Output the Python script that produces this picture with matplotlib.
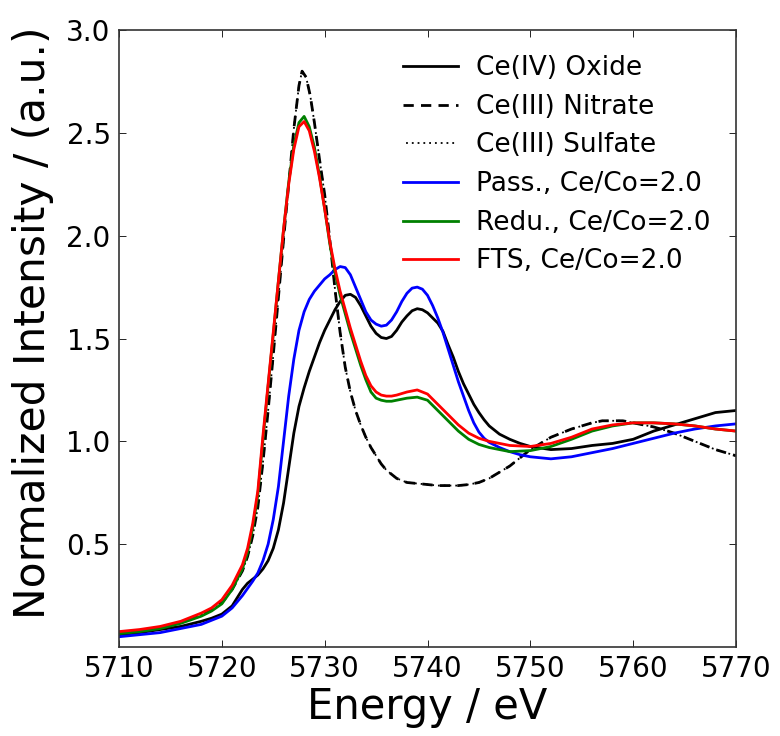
import matplotlib
matplotlib.use("Agg")
import matplotlib.pyplot as plt

plt.rcParams['font.family'] = ['DejaVu Sans']

# Ce(IV) Oxide
e_ox = [5710, 5712, 5714, 5716, 5718, 5719, 5720, 5721, 5721.5, 5722, 5722.5, 5723, 5723.5, 5724, 5724.5,
        5725, 5725.5, 5726, 5726.5, 5727, 5727.5, 5728, 5728.5, 5729, 5729.5, 5730, 5730.5, 5731, 5731.5,
        5732, 5732.5, 5733, 5733.5, 5734, 5734.5, 5735, 5735.5, 5736, 5736.5, 5737, 5737.5, 5738, 5738.5,
        5739, 5739.5, 5740, 5740.5, 5741, 5741.5, 5742, 5742.5, 5743, 5743.5, 5744, 5744.5, 5745, 5745.5,
        5746, 5747, 5748, 5749, 5750, 5752, 5754, 5756, 5758, 5760, 5762, 5764, 5766, 5768, 5770]
i_ox = [0.06, 0.07, 0.085, 0.10, 0.125, 0.14, 0.16, 0.20, 0.24, 0.28, 0.31, 0.33, 0.35, 0.38, 0.42,
        0.48, 0.57, 0.70, 0.87, 1.04, 1.17, 1.26, 1.34, 1.41, 1.48, 1.54, 1.59, 1.64, 1.68,
        1.71, 1.715, 1.70, 1.66, 1.61, 1.56, 1.525, 1.505, 1.50, 1.51, 1.54, 1.58, 1.61, 1.635,
        1.645, 1.64, 1.625, 1.60, 1.575, 1.535, 1.47, 1.41, 1.34, 1.28, 1.23, 1.18, 1.14, 1.105,
        1.075, 1.035, 1.01, 0.99, 0.975, 0.96, 0.965, 0.98, 0.99, 1.01, 1.05, 1.08, 1.11, 1.14, 1.15]

# Ce(III) Nitrate / Sulfate (nearly identical)
e_ce3 = [5710, 5712, 5714, 5716, 5718, 5719, 5720, 5721, 5722, 5722.5, 5723, 5723.5, 5724, 5724.5,
         5725, 5725.5, 5726, 5726.5, 5727, 5727.5, 5727.8, 5728.2, 5728.6, 5729, 5729.5, 5730, 5730.5,
         5731, 5731.5, 5732, 5732.5, 5733, 5733.5, 5734, 5734.5, 5735, 5735.5, 5736, 5737, 5738, 5739,
         5740, 5741, 5742, 5743, 5744, 5745, 5746, 5747, 5748, 5749, 5750, 5751, 5752, 5754, 5756, 5757,
         5758, 5759, 5760, 5762, 5764, 5766, 5768, 5770]
i_nitrate = [0.07, 0.08, 0.095, 0.12, 0.155, 0.18, 0.215, 0.28, 0.37, 0.44, 0.54, 0.68, 0.90, 1.15,
             1.42, 1.70, 1.98, 2.25, 2.52, 2.73, 2.80, 2.77, 2.68, 2.55, 2.37, 2.20, 1.98,
             1.74, 1.53, 1.36, 1.24, 1.15, 1.08, 1.02, 0.97, 0.93, 0.89, 0.86, 0.82, 0.80, 0.795,
             0.79, 0.785, 0.785, 0.785, 0.79, 0.80, 0.82, 0.85, 0.88, 0.92, 0.96, 0.99, 1.02, 1.06, 1.09, 1.10,
             1.10, 1.10, 1.09, 1.07, 1.04, 1.00, 0.96, 0.93]
i_sulfate = [0.07, 0.08, 0.095, 0.12, 0.155, 0.18, 0.215, 0.28, 0.37, 0.44, 0.54, 0.68, 0.90, 1.15,
             1.42, 1.70, 1.98, 2.25, 2.52, 2.73, 2.80, 2.77, 2.68, 2.55, 2.37, 2.20, 1.98,
             1.74, 1.53, 1.36, 1.24, 1.15, 1.08, 1.02, 0.97, 0.93, 0.89, 0.86, 0.82, 0.80, 0.795,
             0.79, 0.785, 0.785, 0.785, 0.79, 0.80, 0.82, 0.85, 0.88, 0.92, 0.96, 0.99, 1.02, 1.06, 1.09, 1.10,
             1.10, 1.10, 1.09, 1.07, 1.04, 1.00, 0.96, 0.93]

# Passivated, Ce/Co=2.0
e_pass = [5710, 5712, 5714, 5716, 5718, 5719, 5720, 5721, 5722, 5723, 5723.5, 5724, 5724.5, 5725, 5725.5,
          5726, 5726.5, 5727, 5727.5, 5728, 5728.5, 5729, 5729.5, 5730, 5730.5, 5731, 5731.5, 5732,
          5732.5, 5733, 5733.5, 5734, 5734.5, 5735, 5735.5, 5736, 5736.5, 5737, 5737.5, 5738, 5738.5,
          5739, 5739.5, 5740, 5740.5, 5741, 5741.5, 5742, 5742.5, 5743, 5743.5, 5744, 5744.5, 5745,
          5745.5, 5746, 5747, 5748, 5749, 5750, 5752, 5754, 5756, 5758, 5760, 5762, 5764, 5766, 5768, 5770]
i_pass = [0.05, 0.06, 0.07, 0.09, 0.11, 0.13, 0.15, 0.19, 0.25, 0.32, 0.36, 0.42, 0.50, 0.62, 0.78,
          1.00, 1.22, 1.40, 1.54, 1.63, 1.69, 1.73, 1.76, 1.79, 1.81, 1.835, 1.85, 1.845,
          1.81, 1.75, 1.69, 1.63, 1.59, 1.57, 1.56, 1.565, 1.59, 1.63, 1.68, 1.72, 1.745,
          1.75, 1.74, 1.71, 1.66, 1.60, 1.53, 1.45, 1.37, 1.29, 1.22, 1.15, 1.09, 1.045,
          1.015, 0.995, 0.97, 0.95, 0.935, 0.925, 0.915, 0.925, 0.945, 0.965, 0.99, 1.015, 1.04, 1.06, 1.075, 1.085]

# Reduced and FTS, Ce/Co=2.0
e_cat = [5710, 5712, 5714, 5716, 5718, 5719, 5720, 5721, 5722, 5722.5, 5723, 5723.5, 5724, 5724.5,
         5725, 5725.5, 5726, 5726.5, 5727, 5727.5, 5728, 5728.5, 5729, 5729.5, 5730, 5730.5, 5731,
         5731.5, 5732, 5732.5, 5733, 5733.5, 5734, 5734.5, 5735, 5735.5, 5736, 5736.5, 5737, 5738,
         5739, 5740, 5741, 5742, 5743, 5744, 5745, 5746, 5748, 5750, 5752, 5754, 5756, 5758, 5760,
         5762, 5764, 5766, 5768, 5770]
i_redu = [0.065, 0.075, 0.09, 0.115, 0.15, 0.175, 0.21, 0.28, 0.38, 0.46, 0.58, 0.74, 1.01, 1.27,
          1.52, 1.78, 2.03, 2.26, 2.44, 2.55, 2.58, 2.53, 2.43, 2.29, 2.13, 1.96, 1.82,
          1.71, 1.62, 1.53, 1.45, 1.37, 1.30, 1.24, 1.21, 1.20, 1.195, 1.195, 1.20, 1.21,
          1.215, 1.20, 1.15, 1.10, 1.05, 1.01, 0.985, 0.97, 0.95, 0.955, 0.975, 1.01, 1.05, 1.075, 1.09,
          1.09, 1.085, 1.075, 1.06, 1.05]
i_fts = [0.075, 0.085, 0.10, 0.125, 0.165, 0.19, 0.23, 0.30, 0.40, 0.48, 0.60, 0.76, 1.03, 1.28,
         1.53, 1.78, 2.03, 2.25, 2.42, 2.53, 2.555, 2.51, 2.41, 2.28, 2.13, 1.97, 1.84,
         1.73, 1.64, 1.55, 1.47, 1.39, 1.32, 1.27, 1.24, 1.225, 1.22, 1.22, 1.225, 1.24,
         1.25, 1.23, 1.18, 1.13, 1.08, 1.04, 1.015, 1.00, 0.98, 0.975, 0.99, 1.02, 1.06, 1.08, 1.09,
         1.09, 1.085, 1.075, 1.06, 1.05]

labels = ["Ce(IV) Oxide", "Ce(III) Nitrate", "Ce(III) Sulfate",
          "Pass., Ce/Co=2.0", "Redu., Ce/Co=2.0", "FTS, Ce/Co=2.0"]
x_ticks = [5710, 5720, 5730, 5740, 5750, 5760, 5770]
y_ticks = [0.5, 1.0, 1.5, 2.0, 2.5, 3.0]

fig = plt.figure(figsize=(7.8, 7.36), dpi=100)
ax = fig.add_axes([0.1526, 0.1209, 0.7910, 0.8383])

lw = 2.0
ax.plot(e_ox, i_ox, color='black', lw=lw, label=labels[0])
ax.plot(e_ce3, i_nitrate, color='black', lw=lw, linestyle=(0, (3.7, 2.6)), label=labels[1])
ax.plot(e_ce3, i_sulfate, color='black', lw=1.3, linestyle=(1.5, (1, 2.2)), label=labels[2])
ax.plot(e_pass, i_pass, color='blue', lw=lw, label=labels[3])
ax.plot(e_cat, i_redu, color='green', lw=lw, label=labels[4])
ax.plot(e_cat, i_fts, color='red', lw=lw, label=labels[5])

ax.set_xlim(5710, 5770)
ax.set_ylim(0.0, 3.0)
ax.set_xticks(x_ticks)
ax.set_yticks(y_ticks)
ax.tick_params(which='both', direction='in', top=True, right=True, length=5, width=0.6,
               labelsize=20, pad=6)
for s in ax.spines.values():
    s.set_linewidth(1.2)
    s.set_color('#333333')

ax.set_xlabel("Energy / eV", fontsize=30, labelpad=2)
ax.set_ylabel("Normalized Intensity / (a.u.)", fontsize=30.5)
ax.yaxis.set_label_coords(-0.106, 0.525)

leg = ax.legend(loc='upper right', frameon=False, fontsize=19, handlelength=2.1,
                labelspacing=0.48, handletextpad=0.7, borderaxespad=0.2,
                bbox_to_anchor=(0.985, 0.985))

fig.savefig("out.png", dpi=100)
